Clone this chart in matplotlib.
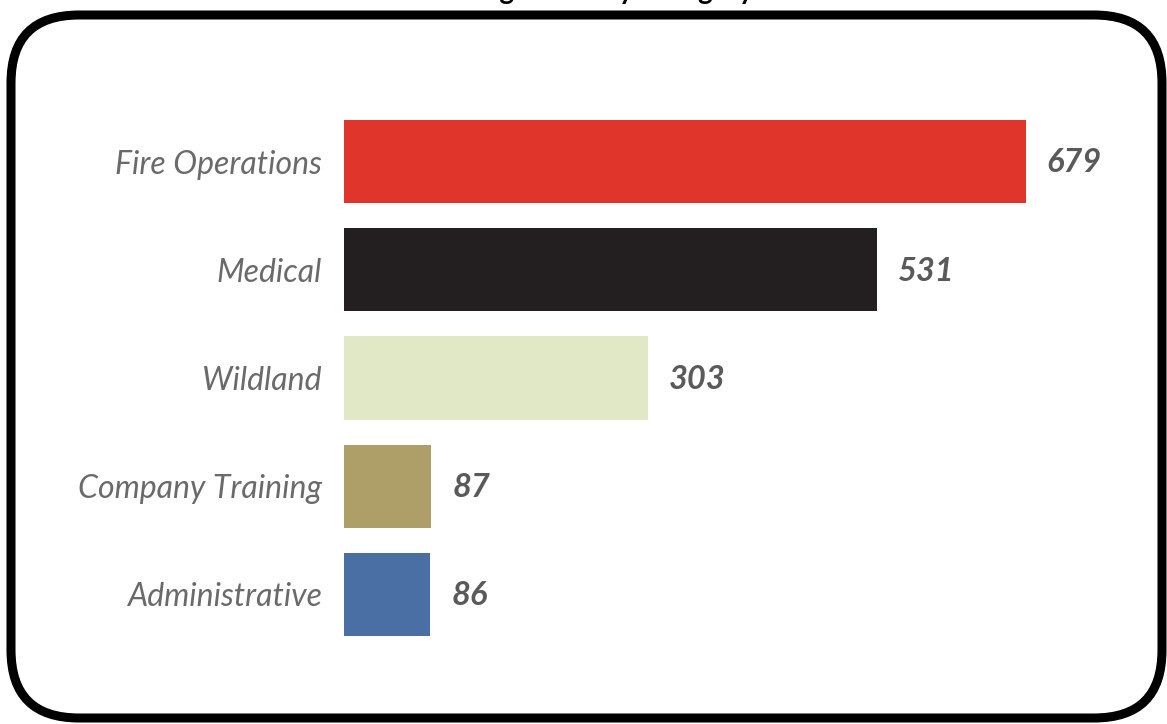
import matplotlib
matplotlib.use('Agg')
import matplotlib.pyplot as plt
from matplotlib.patches import FancyBboxPatch

categories = ['Fire Operations', 'Medical', 'Wildland', 'Company Training', 'Administrative']
hours = [679, 531, 303, 87, 86]
bar_colors = ['#E0352A', '#231F20', '#E1E8C6', '#AD9F67', '#4A6FA5']
title = 'Training Hours by Category'

W, H = 1167, 724
fig = plt.figure(figsize=(W / 100, H / 100), dpi=100)
fig.patch.set_facecolor('white')

# background layer in pixel units for the rounded frame
bg = fig.add_axes([0, 0, 1, 1])
bg.set_xlim(0, W)
bg.set_ylim(H, 0)
bg.axis('off')
frame = FancyBboxPatch((11, 15), 1151, 703, boxstyle='round,pad=0,rounding_size=68',
                       facecolor='white', edgecolor='black', linewidth=6.5)
bg.add_patch(frame)

# chart axes, placed so bars start at x=344
left, right = 344, 1167
top, bottom = 107.5, 648.5
ax = fig.add_axes([left / W, 1 - bottom / H, (right - left) / W, (bottom - top) / H])
ax.patch.set_alpha(0)
ypos = list(range(len(categories)))
ax.barh(ypos, hours, height=0.77, color=bar_colors)
ax.set_xlim(0, (right - left) / 1.0044)
ax.set_ylim(len(categories) - 0.5, -0.5)
ax.set_yticks(ypos)
ax.set_yticklabels(categories, fontsize=23, fontstyle='italic', color='#6a6a6a',
                   family='Lato')
ax.tick_params(axis='y', length=0, pad=16)
ax.set_xticks([])
for s in ax.spines.values():
    s.set_visible(False)

for y, v in zip(ypos, hours):
    ax.annotate(str(v), (v, y), xytext=(15, -1), textcoords='offset points',
                va='center', ha='left', fontsize=23.5, fontweight='bold',
                fontstyle='italic', color='#5a5a5a', family='Lato')

# title sits mostly above the visible area, only descenders show
fig.text(0.5, 1 + 0.5 / H, title, ha='center', va='baseline', fontsize=20,
         fontweight='bold', family='Lato', color='black')

fig.savefig('out.png', dpi=100)
